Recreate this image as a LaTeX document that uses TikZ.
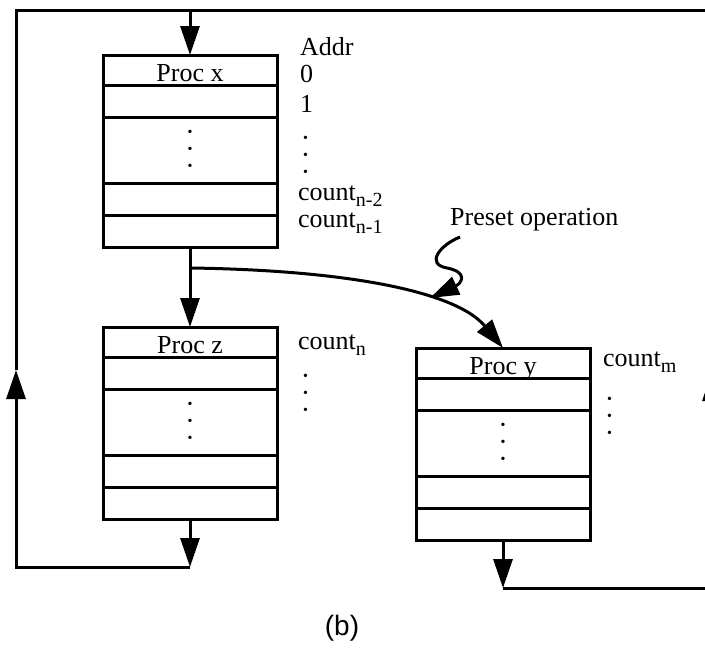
\documentclass[tikz,border=0pt]{standalone}
\usepackage{fontspec}
\setmainfont{Liberation Serif}
\newfontfamily\capfont{Liberation Sans}
\usetikzlibrary{arrows.meta,positioning}
\newcommand{\sub}[1]{\raisebox{-6pt}{\fontsize{20}{20}\selectfont #1}}
\newcommand{\colondots}{\fontsize{14}{14}\selectfont\vbox{\baselineskip=17pt\hbox{•}\hbox{•}\hbox{•}}}

\begin{document}
\begin{tikzpicture}[x=1pt,y=-1pt,font=\fontsize{26}{30}\selectfont,
  >={Triangle[length=29pt,width=19pt]},
  cell/.style={draw,line width=3pt,minimum width=174pt,minimum height=32pt,inner sep=0pt,outer sep=0pt},
  head/.style={cell,minimum height=30pt,text height=23pt,text depth=1pt},
  gap/.style={cell,minimum height=66pt},
  lbl/.style={anchor=base west,inner sep=0pt},
  flow/.style={line width=3pt}]
\useasboundingbox (0,0) rectangle (705,648);
\clip (0,0) rectangle (705,648);
% Proc x
\node[head] (px)  at (190,70) {Proc x};
\node[cell] (px1) [below=0pt of px]  {};
\node[gap]  (px2) [below=0pt of px1] {\colondots};
\node[cell] (px3) [below=0pt of px2] {};
\node[cell] (px4) [below=0pt of px3] {};
% Proc z
\node[head] (pz)  at (190,342) {Proc z};
\node[cell] (pz1) [below=0pt of pz]  {};
\node[gap]  (pz2) [below=0pt of pz1] {\colondots};
\node[cell] (pz3) [below=0pt of pz2] {};
\node[cell] (pz4) [below=0pt of pz3] {};
% Proc y
\node[head] (py)  at (503,363) {Proc y};
\node[cell] (py1) [below=0pt of py]  {};
\node[gap]  (py2) [below=0pt of py1] {\colondots};
\node[cell] (py3) [below=0pt of py2] {};
\node[cell] (py4) [below=0pt of py3] {};
% addresses
\node[lbl] (addr)  at (300,55)  {Addr};
\node[lbl] (a0)    at (300,82)  {0};
\node[lbl] (a1)    at (300,112) {1};
\node[lbl] (adots) at (303,176) {\colondots};
\node[lbl] (cn2)   at (298,200) {count\sub{n-2}};
\node[lbl] (cn1)   at (298,227) {count\sub{n-1}};
\node[lbl] (cn)    at (298,349) {count\sub{n}};
\node[lbl] (zdots) at (303,414) {\colondots};
\node[lbl] (cm)    at (603,366) {count\sub{m}};
\node[lbl] (ydots) at (607,437) {\colondots};
\node[lbl] (preset) at (450,225) {Preset operation};
\node[font=\capfont\fontsize{28}{30}\selectfont] (cap) at (342,628) {(b)};
% loop points
\coordinate (top)  at (190,10);
\coordinate (ltop) at (16,10);
\coordinate (lbot) at (16,567);
\coordinate (lmid) at (16,370);
\coordinate (zbot) at (190,567);
\coordinate (ybot) at (503,588);
\coordinate (rbot) at (712,588);
\coordinate (rmid) at (712,372);
\coordinate (rtop) at (712,10);
\coordinate (split) at (190,268);
\coordinate (wig) at (460,237);
\coordinate (wigtip) at (430,298);
\path[flow,->]
      (top)        edge (px.north)
      (px4.south)  edge (pz.north)
      (pz4.south)  edge (zbot)
      (py4.south)  edge (ybot);
\draw[flow,->] (zbot) -- (lbot) -- (lmid);
\draw[flow] (lmid) -- (ltop) -- (rtop) -- (rmid);
\draw[flow,->] (ybot) -- (rbot) -- (rmid);
\draw[flow,->] (split) .. controls (340,270) and (455,290) .. (py.north);
\draw[flow,->] (wig) .. controls (440,245) and (425,264) .. (447,268)
      .. controls (468,272) and (462,283) .. (wigtip);
\end{tikzpicture}
\end{document}
